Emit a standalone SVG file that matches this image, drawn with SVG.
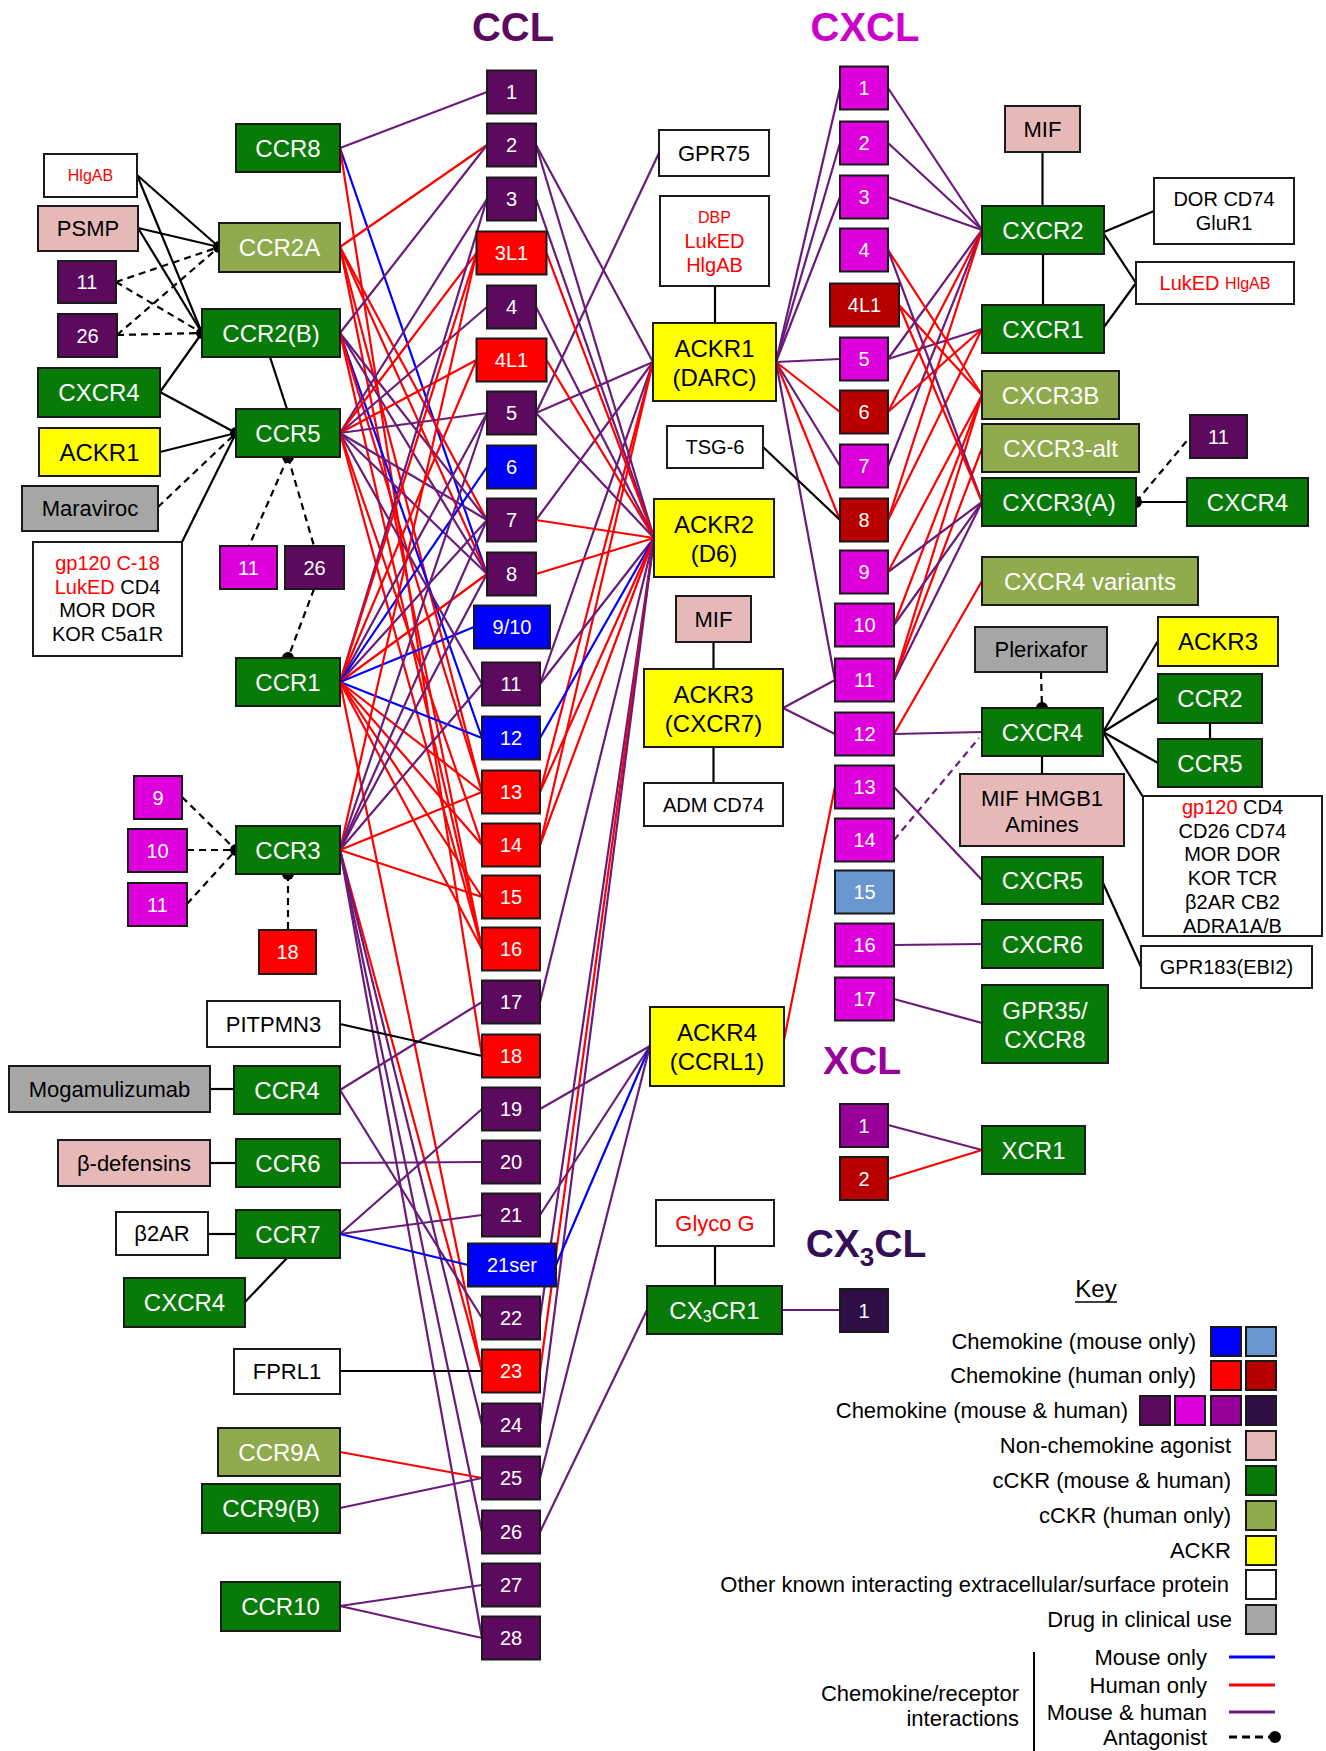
<svg xmlns="http://www.w3.org/2000/svg" width="1326" height="1751" viewBox="0 0 1326 1751">
<style>
text{font-family:"Liberation Sans",Arial,sans-serif}
.t{text-anchor:middle;dominant-baseline:central}
.e{text-anchor:end;dominant-baseline:central}
.wt{fill:#fff}.bt{fill:#000}.rt{fill:#f00}
.s24{font-size:24px}.s22{font-size:22px}.s20{font-size:20px}.s16{font-size:16px}
rect{stroke:#1a1a1a;stroke-width:2}
.D{fill:#5c0a5e}.M{fill:#dd00dd}.P{fill:#990099}.I{fill:#2e0f45}
.R{fill:#ff0000}.DR{fill:#b80000}.B{fill:#0000ff}.LB{fill:#6a96cf}
.Pk{fill:#e6b9b8}.G{fill:#087a08}.O{fill:#8fab4e}.Y{fill:#ffff00}.W{fill:#fff}.Gr{fill:#a6a6a6}
.lp{stroke:#6a1b7a;stroke-width:2.2;fill:none}
.lr{stroke:#ff0000;stroke-width:2.2;fill:none}
.lb{stroke:#0000ff;stroke-width:2.2;fill:none}
.k{stroke:#000;stroke-width:2.2;fill:none}
.kd{stroke:#000;stroke-width:2.2;stroke-dasharray:7,5;fill:none}
.pd{stroke:#6a1b7a;stroke-width:2.2;stroke-dasharray:7,5;fill:none}
.dot{fill:#000}
.title{font-weight:bold;text-anchor:middle}
</style>

<g id="connectors">
<!-- CCR8 -->
<line class="lp" x1="340" y1="148" x2="487" y2="92"/>
<line class="lb" x1="340" y1="148" x2="487" y2="574"/>
<line class="lr" x1="340" y1="148" x2="482" y2="1056"/>
<!-- CCR2A -->
<line class="lr" x1="340" y1="247" x2="487" y2="145"/>
<line class="lr" x1="340" y1="247" x2="487" y2="520"/>
<line class="lr" x1="340" y1="247" x2="487" y2="574"/>
<line class="lr" x1="340" y1="247" x2="482" y2="792"/>
<line class="lr" x1="340" y1="247" x2="482" y2="949"/>
<!-- CCR2B -->
<line class="lp" x1="340" y1="333" x2="487" y2="145"/>
<line class="lp" x1="340" y1="333" x2="487" y2="520"/>
<line class="lp" x1="340" y1="333" x2="487" y2="574"/>
<line class="lb" x1="340" y1="333" x2="482" y2="738"/>
<line class="lr" x1="340" y1="333" x2="482" y2="792"/>
<line class="lr" x1="340" y1="333" x2="482" y2="949"/>
<!-- CCR5 -->
<line class="lp" x1="340" y1="433" x2="487" y2="199"/>
<line class="lr" x1="340" y1="433" x2="476.5" y2="253"/>
<line class="lp" x1="340" y1="433" x2="487" y2="307"/>
<line class="lr" x1="340" y1="433" x2="476.5" y2="360"/>
<line class="lp" x1="340" y1="433" x2="487" y2="413"/>
<line class="lp" x1="340" y1="433" x2="487" y2="520"/>
<line class="lp" x1="340" y1="433" x2="487" y2="574"/>
<line class="lp" x1="340" y1="433" x2="482" y2="684"/>
<line class="lr" x1="340" y1="433" x2="482" y2="845"/>
<line class="lr" x1="340" y1="433" x2="482" y2="949"/>
<!-- CCR1 -->
<line class="lp" x1="340" y1="682" x2="487" y2="199"/>
<line class="lr" x1="340" y1="682" x2="476.5" y2="253"/>
<line class="lr" x1="340" y1="682" x2="476.5" y2="360"/>
<line class="lp" x1="340" y1="682" x2="487" y2="413"/>
<line class="lb" x1="340" y1="682" x2="487" y2="467"/>
<line class="lp" x1="340" y1="682" x2="487" y2="520"/>
<line class="lr" x1="340" y1="682" x2="487" y2="574"/>
<line class="lb" x1="340" y1="682" x2="474" y2="627"/>
<line class="lb" x1="340" y1="682" x2="482" y2="738"/>
<line class="lr" x1="340" y1="682" x2="482" y2="792"/>
<line class="lr" x1="340" y1="682" x2="482" y2="845"/>
<line class="lr" x1="340" y1="682" x2="482" y2="897"/>
<line class="lr" x1="340" y1="682" x2="482" y2="949"/>
<line class="lr" x1="340" y1="682" x2="482" y2="1371"/>
<!-- CCR3 -->
<line class="lr" x1="340" y1="850" x2="476.5" y2="253"/>
<line class="lp" x1="340" y1="850" x2="487" y2="413"/>
<line class="lp" x1="340" y1="850" x2="487" y2="520"/>
<line class="lp" x1="340" y1="850" x2="487" y2="574"/>
<line class="lp" x1="340" y1="850" x2="482" y2="684"/>
<line class="lr" x1="340" y1="850" x2="482" y2="792"/>
<line class="lr" x1="340" y1="850" x2="482" y2="897"/>
<line class="lr" x1="340" y1="850" x2="482" y2="1371"/>
<line class="lp" x1="340" y1="850" x2="482" y2="1425"/>
<line class="lp" x1="340" y1="850" x2="482" y2="1532"/>
<line class="lp" x1="340" y1="850" x2="482" y2="1638"/>
<!-- CCR4, CCR6, CCR7, CCR9, CCR10 -->
<line class="lp" x1="340" y1="1090" x2="482" y2="1002"/>
<line class="lp" x1="340" y1="1090" x2="482" y2="1318"/>
<line class="lp" x1="340" y1="1163" x2="482" y2="1162"/>
<line class="lp" x1="340" y1="1234" x2="482" y2="1109"/>
<line class="lp" x1="340" y1="1234" x2="482" y2="1215"/>
<line class="lb" x1="340" y1="1234" x2="468" y2="1265"/>
<line class="lr" x1="340" y1="1452" x2="482" y2="1478"/>
<line class="lp" x1="340" y1="1508" x2="482" y2="1478"/>
<line class="lp" x1="340" y1="1606" x2="482" y2="1585"/>
<line class="lp" x1="340" y1="1606" x2="482" y2="1638"/>
<!-- GPR75 -->
<line class="lp" x1="659" y1="153" x2="536" y2="413"/>
<!-- ACKR1 left -->
<line class="lp" x1="653" y1="362" x2="536" y2="145"/>
<line class="lp" x1="653" y1="362" x2="536" y2="413"/>
<line class="lp" x1="653" y1="362" x2="536" y2="520"/>
<line class="lp" x1="653" y1="362" x2="540" y2="684"/>
<line class="lr" x1="653" y1="362" x2="540" y2="792"/>
<line class="lr" x1="653" y1="362" x2="540" y2="845"/>
<!-- ACKR2 -->
<line class="lp" x1="654" y1="538" x2="536" y2="145"/>
<line class="lp" x1="654" y1="538" x2="536" y2="199"/>
<line class="lr" x1="654" y1="538" x2="546.5" y2="253"/>
<line class="lp" x1="654" y1="538" x2="536" y2="307"/>
<line class="lr" x1="654" y1="538" x2="546.5" y2="360"/>
<line class="lp" x1="654" y1="538" x2="536" y2="413"/>
<line class="lr" x1="654" y1="538" x2="536" y2="520"/>
<line class="lr" x1="654" y1="538" x2="536" y2="574"/>
<line class="lp" x1="654" y1="538" x2="540" y2="684"/>
<line class="lb" x1="654" y1="538" x2="540" y2="738"/>
<line class="lr" x1="654" y1="538" x2="540" y2="792"/>
<line class="lr" x1="654" y1="538" x2="540" y2="845"/>
<line class="lp" x1="654" y1="538" x2="540" y2="1002"/>
<line class="lp" x1="654" y1="538" x2="540" y2="1318"/>
<line class="lr" x1="654" y1="538" x2="540" y2="1371"/>
<line class="lp" x1="654" y1="538" x2="540" y2="1425"/>
<!-- ACKR4 -->
<line class="lp" x1="650" y1="1046" x2="540" y2="1109"/>
<line class="lp" x1="650" y1="1046" x2="540" y2="1215"/>
<line class="lb" x1="650" y1="1046" x2="556" y2="1265"/>
<line class="lp" x1="650" y1="1046" x2="540" y2="1478"/>
<line class="lr" x1="784" y1="1040" x2="835" y2="787"/>
<!-- CX3CR1 -->
<line class="lp" x1="647" y1="1310" x2="540" y2="1532"/>
<line class="lp" x1="782" y1="1310" x2="840" y2="1310"/>
<!-- ACKR3 -->
<line class="lp" x1="783" y1="708" x2="835" y2="680"/>
<line class="lp" x1="783" y1="708" x2="835" y2="734"/>
<!-- ACKR1 right -->
<line class="lp" x1="776" y1="362" x2="840" y2="88"/>
<line class="lp" x1="776" y1="362" x2="840" y2="143"/>
<line class="lp" x1="776" y1="362" x2="840" y2="197"/>
<line class="lp" x1="776" y1="362" x2="840" y2="359"/>
<line class="lr" x1="776" y1="362" x2="840" y2="412"/>
<line class="lp" x1="776" y1="362" x2="840" y2="466"/>
<line class="lr" x1="776" y1="362" x2="840" y2="520"/>
<line class="lp" x1="776" y1="362" x2="835" y2="680"/>
<!-- CXCR2 -->
<line class="lp" x1="888" y1="88" x2="982" y2="230"/>
<line class="lp" x1="888" y1="143" x2="982" y2="230"/>
<line class="lp" x1="888" y1="197" x2="982" y2="230"/>
<line class="lp" x1="888" y1="359" x2="982" y2="230"/>
<line class="lr" x1="888" y1="412" x2="982" y2="230"/>
<line class="lp" x1="888" y1="466" x2="982" y2="230"/>
<line class="lr" x1="888" y1="520" x2="982" y2="230"/>
<!-- CXCR1 -->
<line class="lp" x1="888" y1="359" x2="982" y2="329"/>
<line class="lr" x1="888" y1="412" x2="982" y2="329"/>
<line class="lr" x1="888" y1="520" x2="982" y2="329"/>
<!-- CXCR3B -->
<line class="lr" x1="888" y1="250" x2="982" y2="395"/>
<line class="lr" x1="899" y1="305" x2="982" y2="395"/>
<line class="lr" x1="888" y1="572" x2="982" y2="395"/>
<line class="lr" x1="894" y1="625" x2="982" y2="395"/>
<line class="lr" x1="894" y1="680" x2="982" y2="395"/>
<!-- CXCR3-alt -->
<line class="lr" x1="894" y1="680" x2="982" y2="448"/>
<!-- CXCR3A -->
<line class="lp" x1="888" y1="250" x2="982" y2="502"/>
<line class="lr" x1="899" y1="305" x2="982" y2="502"/>
<line class="lp" x1="888" y1="572" x2="982" y2="502"/>
<line class="lp" x1="894" y1="625" x2="982" y2="502"/>
<line class="lp" x1="894" y1="680" x2="982" y2="502"/>
<!-- CXCR4 variants, CXCR4, CXCR5, CXCR6, GPR35 -->
<line class="lr" x1="894" y1="734" x2="982" y2="581"/>
<line class="lp" x1="894" y1="734" x2="982" y2="732"/>
<line class="pd" x1="894" y1="840" x2="979" y2="738"/>
<line class="lp" x1="894" y1="787" x2="982" y2="880"/>
<line class="lp" x1="894" y1="945" x2="982" y2="944"/>
<line class="lp" x1="894" y1="999" x2="982" y2="1023"/>
<!-- XCR1 -->
<line class="lp" x1="888" y1="1125" x2="982" y2="1150"/>
<line class="lr" x1="888" y1="1179" x2="982" y2="1150"/>

<!-- black / other partners, left -->
<line class="k" x1="137" y1="175" x2="219" y2="247"/>
<line class="k" x1="137" y1="175" x2="202" y2="333"/>
<line class="k" x1="138" y1="228" x2="219" y2="247"/>
<line class="k" x1="138" y1="228" x2="202" y2="333"/>
<line class="kd" x1="116" y1="282" x2="219" y2="247"/>
<line class="kd" x1="116" y1="282" x2="202" y2="333"/>
<line class="kd" x1="117" y1="335" x2="219" y2="247"/>
<line class="kd" x1="117" y1="335" x2="202" y2="333"/>
<line class="k" x1="160" y1="392" x2="202" y2="333"/>
<line class="k" x1="160" y1="392" x2="236" y2="433"/>
<line class="k" x1="160" y1="452" x2="236" y2="433"/>
<line class="kd" x1="158" y1="507" x2="236" y2="433"/>
<line class="k" x1="182" y1="542" x2="236" y2="433"/>
<line class="k" x1="270" y1="357" x2="287" y2="409"/>
<line class="kd" x1="288" y1="457" x2="249" y2="546"/>
<line class="kd" x1="288" y1="457" x2="314" y2="546"/>
<line class="kd" x1="314" y1="589" x2="288" y2="658"/>
<line class="kd" x1="182" y1="797" x2="236" y2="850"/>
<line class="kd" x1="187" y1="850" x2="236" y2="850"/>
<line class="kd" x1="187" y1="904" x2="236" y2="850"/>
<line class="kd" x1="288" y1="874" x2="288" y2="930"/>
<line class="k" x1="210" y1="1089" x2="234" y2="1089"/>
<line class="k" x1="210" y1="1163" x2="236" y2="1163"/>
<line class="k" x1="208" y1="1234" x2="236" y2="1234"/>
<line class="k" x1="245" y1="1302" x2="287" y2="1258"/>
<line class="k" x1="340" y1="1024" x2="482" y2="1056"/>
<line class="k" x1="340" y1="1371" x2="482" y2="1371"/>
<!-- middle -->
<line class="k" x1="715" y1="286" x2="715" y2="323"/>
<line class="k" x1="763" y1="447" x2="840" y2="520"/>
<line class="k" x1="713.5" y1="642" x2="713.5" y2="669"/>
<line class="k" x1="713.5" y1="747" x2="713.5" y2="783"/>
<line class="k" x1="715" y1="1246" x2="715" y2="1286"/>
<!-- right -->
<line class="k" x1="1042.5" y1="152" x2="1042.5" y2="206"/>
<line class="k" x1="1043" y1="254" x2="1043" y2="305"/>
<line class="k" x1="1104" y1="232" x2="1154" y2="211"/>
<line class="k" x1="1104" y1="234" x2="1136" y2="283"/>
<line class="k" x1="1104" y1="327" x2="1136" y2="283"/>
<line class="k" x1="1136" y1="502" x2="1187" y2="502"/>
<line class="kd" x1="1136" y1="502" x2="1190" y2="437"/>
<line class="kd" x1="1041" y1="672" x2="1042" y2="708"/>
<line class="k" x1="1103" y1="732" x2="1158" y2="641"/>
<line class="k" x1="1103" y1="732" x2="1158" y2="698"/>
<line class="k" x1="1103" y1="732" x2="1158" y2="763"/>
<line class="k" x1="1103" y1="732" x2="1143" y2="797"/>
<line class="k" x1="1210" y1="723" x2="1210" y2="739"/>
<line class="k" x1="1042" y1="756" x2="1042" y2="774"/>
<line class="k" x1="1103" y1="883" x2="1141" y2="967"/>
<!-- antagonist dots -->
<circle class="dot" cx="219" cy="247" r="6"/>
<circle class="dot" cx="202" cy="333" r="6"/>
<circle class="dot" cx="236" cy="433" r="6"/>
<circle class="dot" cx="288" cy="457" r="6"/>
<circle class="dot" cx="288" cy="658" r="6"/>
<circle class="dot" cx="236" cy="850" r="6"/>
<circle class="dot" cx="288" cy="874" r="6"/>
<circle class="dot" cx="1136" cy="502" r="6"/>
<circle class="dot" cx="1042" cy="708" r="6"/>
</g>

<!-- titles -->
<text class="title" x="513" y="41" font-size="40" fill="#5c0a5e">CCL</text>
<text class="title" x="865" y="41" font-size="40" fill="#cc00cc">CXCL</text>
<text class="title" x="862" y="1074" font-size="39" fill="#990099">XCL</text>
<text class="title" x="866" y="1257" font-size="39" fill="#330f55">CX<tspan font-size="26" dy="9">3</tspan><tspan dy="-9">CL</tspan></text>

<!-- CCL column -->
<g id="ccl-1"><rect class="D" x="487" y="70.5" width="49" height="43"/><text class="t wt s20" x="511.5" y="92">1</text></g>
<g id="ccl-2"><rect class="D" x="487" y="123.5" width="49" height="43"/><text class="t wt s20" x="511.5" y="145">2</text></g>
<g id="ccl-3"><rect class="D" x="487" y="177.5" width="49" height="43"/><text class="t wt s20" x="511.5" y="199">3</text></g>
<g id="ccl-3l1"><rect class="R" x="476.5" y="231.5" width="70" height="43"/><text class="t wt s20" x="511.5" y="253">3L1</text></g>
<g id="ccl-4"><rect class="D" x="487" y="285.5" width="49" height="43"/><text class="t wt s20" x="511.5" y="307">4</text></g>
<g id="ccl-4l1"><rect class="R" x="476.5" y="338.5" width="70" height="43"/><text class="t wt s20" x="511.5" y="360">4L1</text></g>
<g id="ccl-5"><rect class="D" x="487" y="391.5" width="49" height="43"/><text class="t wt s20" x="511.5" y="413">5</text></g>
<g id="ccl-6"><rect class="B" x="487" y="445.5" width="49" height="43"/><text class="t wt s20" x="511.5" y="467">6</text></g>
<g id="ccl-7"><rect class="D" x="487" y="498.5" width="49" height="43"/><text class="t wt s20" x="511.5" y="520">7</text></g>
<g id="ccl-8"><rect class="D" x="487" y="552.5" width="49" height="43"/><text class="t wt s20" x="511.5" y="574">8</text></g>
<g id="ccl-9-10"><rect class="B" x="474" y="605.5" width="76" height="43"/><text class="t wt s20" x="512" y="627">9/10</text></g>
<g id="ccl-11"><rect class="D" x="482" y="662.5" width="58" height="43"/><text class="t wt s20" x="511" y="684">11</text></g>
<g id="ccl-12"><rect class="B" x="482" y="716.5" width="58" height="43"/><text class="t wt s20" x="511" y="738">12</text></g>
<g id="ccl-13"><rect class="R" x="482" y="770.5" width="58" height="43"/><text class="t wt s20" x="511" y="792">13</text></g>
<g id="ccl-14"><rect class="R" x="482" y="823.5" width="58" height="43"/><text class="t wt s20" x="511" y="845">14</text></g>
<g id="ccl-15"><rect class="R" x="482" y="875.5" width="58" height="43"/><text class="t wt s20" x="511" y="897">15</text></g>
<g id="ccl-16"><rect class="R" x="482" y="927.5" width="58" height="43"/><text class="t wt s20" x="511" y="949">16</text></g>
<g id="ccl-17"><rect class="D" x="482" y="980.5" width="58" height="43"/><text class="t wt s20" x="511" y="1002">17</text></g>
<g id="ccl-18"><rect class="R" x="482" y="1034.5" width="58" height="43"/><text class="t wt s20" x="511" y="1056">18</text></g>
<g id="ccl-19"><rect class="D" x="482" y="1087.5" width="58" height="43"/><text class="t wt s20" x="511" y="1109">19</text></g>
<g id="ccl-20"><rect class="D" x="482" y="1140.5" width="58" height="43"/><text class="t wt s20" x="511" y="1162">20</text></g>
<g id="ccl-21"><rect class="D" x="482" y="1193.5" width="58" height="43"/><text class="t wt s20" x="511" y="1215">21</text></g>
<g id="ccl-21ser"><rect class="B" x="468" y="1243.5" width="88" height="43"/><text class="t wt s20" x="512" y="1265">21ser</text></g>
<g id="ccl-22"><rect class="D" x="482" y="1296.5" width="58" height="43"/><text class="t wt s20" x="511" y="1318">22</text></g>
<g id="ccl-23"><rect class="R" x="482" y="1349.5" width="58" height="43"/><text class="t wt s20" x="511" y="1371">23</text></g>
<g id="ccl-24"><rect class="D" x="482" y="1403.5" width="58" height="43"/><text class="t wt s20" x="511" y="1425">24</text></g>
<g id="ccl-25"><rect class="D" x="482" y="1456.5" width="58" height="43"/><text class="t wt s20" x="511" y="1478">25</text></g>
<g id="ccl-26"><rect class="D" x="482" y="1510.5" width="58" height="43"/><text class="t wt s20" x="511" y="1532">26</text></g>
<g id="ccl-27"><rect class="D" x="482" y="1563.5" width="58" height="43"/><text class="t wt s20" x="511" y="1585">27</text></g>
<g id="ccl-28"><rect class="D" x="482" y="1616.5" width="58" height="43"/><text class="t wt s20" x="511" y="1638">28</text></g>

<!-- CXCL column -->
<g id="cxcl-1"><rect class="M" x="840" y="66.5" width="48" height="43"/><text class="t wt s20" x="864" y="88">1</text></g>
<g id="cxcl-2"><rect class="M" x="840" y="121.5" width="48" height="43"/><text class="t wt s20" x="864" y="143">2</text></g>
<g id="cxcl-3"><rect class="M" x="840" y="175.5" width="48" height="43"/><text class="t wt s20" x="864" y="197">3</text></g>
<g id="cxcl-4"><rect class="M" x="840" y="228.5" width="48" height="43"/><text class="t wt s20" x="864" y="250">4</text></g>
<g id="cxcl-4l1"><rect class="DR" x="830" y="283.5" width="69" height="43"/><text class="t wt s20" x="864.5" y="305">4L1</text></g>
<g id="cxcl-5"><rect class="M" x="840" y="337.5" width="48" height="43"/><text class="t wt s20" x="864" y="359">5</text></g>
<g id="cxcl-6"><rect class="DR" x="840" y="390.5" width="48" height="43"/><text class="t wt s20" x="864" y="412">6</text></g>
<g id="cxcl-7"><rect class="M" x="840" y="444.5" width="48" height="43"/><text class="t wt s20" x="864" y="466">7</text></g>
<g id="cxcl-8"><rect class="DR" x="840" y="498.5" width="48" height="43"/><text class="t wt s20" x="864" y="520">8</text></g>
<g id="cxcl-9"><rect class="M" x="840" y="550.5" width="48" height="43"/><text class="t wt s20" x="864" y="572">9</text></g>
<g id="cxcl-10"><rect class="M" x="835" y="603.5" width="59" height="43"/><text class="t wt s20" x="864.5" y="625">10</text></g>
<g id="cxcl-11"><rect class="M" x="835" y="658.5" width="59" height="43"/><text class="t wt s20" x="864.5" y="680">11</text></g>
<g id="cxcl-12"><rect class="M" x="835" y="712.5" width="59" height="43"/><text class="t wt s20" x="864.5" y="734">12</text></g>
<g id="cxcl-13"><rect class="M" x="835" y="765.5" width="59" height="43"/><text class="t wt s20" x="864.5" y="787">13</text></g>
<g id="cxcl-14"><rect class="M" x="835" y="818.5" width="59" height="43"/><text class="t wt s20" x="864.5" y="840">14</text></g>
<g id="cxcl-15"><rect class="LB" x="835" y="870.5" width="59" height="43"/><text class="t wt s20" x="864.5" y="892">15</text></g>
<g id="cxcl-16"><rect class="M" x="835" y="923.5" width="59" height="43"/><text class="t wt s20" x="864.5" y="945">16</text></g>
<g id="cxcl-17"><rect class="M" x="835" y="977.5" width="59" height="43"/><text class="t wt s20" x="864.5" y="999">17</text></g>

<g id="xcl-1"><rect class="P" x="840" y="1104" width="48" height="43"/><text class="t wt s20" x="864" y="1125.5">1</text></g>
<g id="xcl-2"><rect class="DR" x="840" y="1157" width="48" height="43"/><text class="t wt s20" x="864" y="1178.5">2</text></g>
<g id="cx3cl-1"><rect class="I" x="840" y="1289" width="48" height="43"/><text class="t wt s20" x="864" y="1310.5">1</text></g>

<!-- left nodes -->
<g id="ccr8"><rect class="G" x="236" y="124" width="104" height="48"/><text class="t wt s24" x="288" y="148">CCR8</text></g>
<g id="hlgab-left"><rect class="W" x="44" y="154" width="93" height="43"/><text class="t rt s16" x="90.5" y="175.5">HlgAB</text></g>
<g id="psmp"><rect class="Pk" x="38" y="206" width="100" height="45"/><text class="t bt s22" x="88" y="228.5">PSMP</text></g>
<g id="ccl11-antag"><rect class="D" x="58" y="261" width="58" height="42"/><text class="t wt s20" x="87" y="282">11</text></g>
<g id="ccl26-antag"><rect class="D" x="58" y="314" width="59" height="43"/><text class="t wt s20" x="87.5" y="335.5">26</text></g>
<g id="cxcr4-left"><rect class="G" x="38" y="368" width="122" height="49"/><text class="t wt s24" x="99" y="392.5">CXCR4</text></g>
<g id="ccr2a"><rect class="O" x="219" y="223" width="121" height="49"/><text class="t wt s24" x="279.5" y="247.5">CCR2A</text></g>
<g id="ccr2b"><rect class="G" x="202" y="309" width="138" height="48"/><text class="t wt s24" x="271" y="333">CCR2(B)</text></g>
<g id="ccr5"><rect class="G" x="236" y="409" width="104" height="48"/><text class="t wt s24" x="288" y="433">CCR5</text></g>
<g id="ackr1-left"><rect class="Y" x="39" y="428" width="121" height="48"/><text class="t bt s24" x="99.5" y="452">ACKR1</text></g>
<g id="maraviroc"><rect class="Gr" x="22" y="486" width="136" height="45"/><text class="t bt s22" x="90" y="508.5">Maraviroc</text></g>
<g id="ccr5-partners"><rect class="W" x="33" y="542" width="149" height="114"/>
<text class="t rt s20" x="107.5" y="563">gp120 C-18</text>
<text class="t s20" x="107.5" y="587"><tspan fill="#f00">LukED</tspan><tspan fill="#000"> CD4</tspan></text>
<text class="t bt s20" x="107.5" y="610">MOR DOR</text>
<text class="t bt s20" x="107.5" y="634">KOR C5a1R</text></g>
<g id="cxcl11-antag-ccr5"><rect class="M" x="220" y="546" width="57" height="43"/><text class="t wt s20" x="248.5" y="567.5">11</text></g>
<g id="ccl26-antag-ccr5"><rect class="D" x="285" y="546" width="59" height="43"/><text class="t wt s20" x="314.5" y="567.5">26</text></g>
<g id="ccr1"><rect class="G" x="236" y="658" width="104" height="48"/><text class="t wt s24" x="288" y="682">CCR1</text></g>
<g id="cxcl9-antag"><rect class="M" x="134" y="776" width="48" height="43"/><text class="t wt s20" x="158" y="797.5">9</text></g>
<g id="cxcl10-antag"><rect class="M" x="128" y="829" width="59" height="43"/><text class="t wt s20" x="157.5" y="850.5">10</text></g>
<g id="cxcl11-antag-ccr3"><rect class="M" x="128" y="883" width="59" height="43"/><text class="t wt s20" x="157.5" y="904.5">11</text></g>
<g id="ccr3"><rect class="G" x="236" y="826" width="104" height="48"/><text class="t wt s24" x="288" y="850">CCR3</text></g>
<g id="ccl18-antag"><rect class="R" x="259" y="930" width="57" height="44"/><text class="t wt s20" x="287.5" y="952">18</text></g>
<g id="pitpmn3"><rect class="W" x="207" y="1001" width="133" height="46"/><text class="t bt s22" x="273.5" y="1024">PITPMN3</text></g>
<g id="mogamulizumab"><rect class="Gr" x="9" y="1066" width="201" height="46"/><text class="t bt s22" x="109.5" y="1089">Mogamulizumab</text></g>
<g id="ccr4"><rect class="G" x="234" y="1066" width="106" height="48"/><text class="t wt s24" x="287" y="1090">CCR4</text></g>
<g id="beta-defensins"><rect class="Pk" x="58" y="1140" width="152" height="46"/><text class="t bt s22" x="134" y="1163">β-defensins</text></g>
<g id="ccr6"><rect class="G" x="236" y="1139" width="104" height="48"/><text class="t wt s24" x="288" y="1163">CCR6</text></g>
<g id="b2ar"><rect class="W" x="116" y="1212" width="92" height="43"/><text class="t bt s22" x="162" y="1233.5">β2AR</text></g>
<g id="ccr7"><rect class="G" x="236" y="1210" width="104" height="48"/><text class="t wt s24" x="288" y="1234">CCR7</text></g>
<g id="cxcr4-ccr7"><rect class="G" x="124" y="1278" width="121" height="49"/><text class="t wt s24" x="184.5" y="1302.5">CXCR4</text></g>
<g id="fprl1"><rect class="W" x="234" y="1349" width="106" height="45"/><text class="t bt s22" x="287" y="1371.5">FPRL1</text></g>
<g id="ccr9a"><rect class="O" x="218" y="1428" width="122" height="48"/><text class="t wt s24" x="279" y="1452">CCR9A</text></g>
<g id="ccr9b"><rect class="G" x="202" y="1484" width="138" height="49"/><text class="t wt s24" x="271" y="1508.5">CCR9(B)</text></g>
<g id="ccr10"><rect class="G" x="221" y="1582" width="119" height="49"/><text class="t wt s24" x="280.5" y="1606.5">CCR10</text></g>

<!-- middle nodes -->
<g id="gpr75"><rect class="W" x="659" y="130" width="110" height="46"/><text class="t bt s22" x="714" y="153">GPR75</text></g>
<g id="ackr1-partners"><rect class="W" x="660" y="196" width="109" height="90"/>
<text class="t rt s16" x="714.5" y="217">DBP</text>
<text class="t rt s20" x="714.5" y="241">LukED</text>
<text class="t rt s20" x="714.5" y="265">HlgAB</text></g>
<g id="ackr1"><rect class="Y" x="653" y="323" width="123" height="78"/><text class="t bt s24" x="714.5" y="348">ACKR1</text><text class="t bt s24" x="714.5" y="377">(DARC)</text></g>
<g id="tsg6"><rect class="W" x="667" y="426" width="96" height="42"/><text class="t bt s20" x="715" y="447">TSG-6</text></g>
<g id="ackr2"><rect class="Y" x="654" y="499" width="120" height="78"/><text class="t bt s24" x="714" y="524">ACKR2</text><text class="t bt s24" x="714" y="553">(D6)</text></g>
<g id="mif-ackr3"><rect class="Pk" x="676" y="596" width="75" height="46"/><text class="t bt s22" x="713.5" y="619">MIF</text></g>
<g id="ackr3"><rect class="Y" x="644" y="669" width="139" height="78"/><text class="t bt s24" x="713.5" y="694">ACKR3</text><text class="t bt s24" x="713.5" y="723">(CXCR7)</text></g>
<g id="adm-cd74"><rect class="W" x="644" y="783" width="139" height="43"/><text class="t bt s20" x="713.5" y="804.5">ADM CD74</text></g>
<g id="ackr4"><rect class="Y" x="650" y="1007" width="134" height="79"/><text class="t bt s24" x="717" y="1032">ACKR4</text><text class="t bt s24" x="717" y="1061">(CCRL1)</text></g>
<g id="glyco-g"><rect class="W" x="656" y="1200" width="118" height="46"/><text class="t rt s22" x="715" y="1223">Glyco G</text></g>
<g id="cx3cr1"><rect class="G" x="647" y="1286" width="135" height="48"/><text class="t wt s24" x="714.5" y="1310">CX<tspan font-size="16" dy="6">3</tspan><tspan dy="-6">CR1</tspan></text></g>

<!-- right nodes -->
<g id="mif-cxcr2"><rect class="Pk" x="1005" y="106" width="75" height="46"/><text class="t bt s22" x="1042.5" y="129">MIF</text></g>
<g id="cxcr2"><rect class="G" x="982" y="206" width="122" height="48"/><text class="t wt s24" x="1043" y="230">CXCR2</text></g>
<g id="cxcr2-partners"><rect class="W" x="1154" y="178" width="140" height="66"/><text class="t bt s20" x="1224" y="199">DOR CD74</text><text class="t bt s20" x="1224" y="223">GluR1</text></g>
<g id="luked-hlgab"><rect class="W" x="1136" y="262" width="158" height="42"/><text class="t rt s20" x="1215" y="283">LukED <tspan font-size="16">HlgAB</tspan></text></g>
<g id="cxcr1"><rect class="G" x="982" y="305" width="122" height="48"/><text class="t wt s24" x="1043" y="329">CXCR1</text></g>
<g id="cxcr3b"><rect class="O" x="982" y="371" width="137" height="48"/><text class="t wt s24" x="1050.5" y="395">CXCR3B</text></g>
<g id="cxcr3-alt"><rect class="O" x="982" y="424" width="157" height="48"/><text class="t wt s24" x="1060.5" y="448">CXCR3-alt</text></g>
<g id="cxcr3a"><rect class="G" x="982" y="478" width="154" height="48"/><text class="t wt s24" x="1059" y="502">CXCR3(A)</text></g>
<g id="ccl11-antag-cxcr3"><rect class="D" x="1190" y="415" width="57" height="43"/><text class="t wt s20" x="1218.5" y="436.5">11</text></g>
<g id="cxcr4-cxcr3"><rect class="G" x="1187" y="478" width="121" height="48"/><text class="t wt s24" x="1247.5" y="502">CXCR4</text></g>
<g id="cxcr4-variants"><rect class="O" x="982" y="557" width="216" height="48"/><text class="t wt s24" x="1090" y="581">CXCR4 variants</text></g>
<g id="plerixafor"><rect class="Gr" x="975" y="627" width="132" height="45"/><text class="t bt s22" x="1041" y="649.5">Plerixafor</text></g>
<g id="ackr3-right"><rect class="Y" x="1158" y="617" width="120" height="49"/><text class="t bt s24" x="1218" y="641.5">ACKR3</text></g>
<g id="ccr2-right"><rect class="G" x="1158" y="674" width="104" height="49"/><text class="t wt s24" x="1210" y="698.5">CCR2</text></g>
<g id="ccr5-right"><rect class="G" x="1158" y="739" width="104" height="48"/><text class="t wt s24" x="1210" y="763">CCR5</text></g>
<g id="cxcr4"><rect class="G" x="982" y="708" width="121" height="48"/><text class="t wt s24" x="1042.5" y="732">CXCR4</text></g>
<g id="mif-hmgb1"><rect class="Pk" x="960" y="774" width="164" height="72"/><text class="t bt s22" x="1042" y="798">MIF HMGB1</text><text class="t bt s22" x="1042" y="824">Amines</text></g>
<g id="cxcr4-partners"><rect class="W" x="1143" y="796" width="179" height="140"/>
<text class="t s20" x="1232.5" y="807"><tspan fill="#f00">gp120</tspan><tspan fill="#000"> CD4</tspan></text>
<text class="t bt s20" x="1232.5" y="831">CD26 CD74</text>
<text class="t bt s20" x="1232.5" y="854">MOR DOR</text>
<text class="t bt s20" x="1232.5" y="878">KOR TCR</text>
<text class="t bt s20" x="1232.5" y="902">β2AR CB2</text>
<text class="t bt s20" x="1232.5" y="926">ADRA1A/B</text></g>
<g id="cxcr5"><rect class="G" x="982" y="857" width="121" height="47"/><text class="t wt s24" x="1042.5" y="880.5">CXCR5</text></g>
<g id="gpr183"><rect class="W" x="1141" y="946" width="171" height="42"/><text class="t bt s20" x="1226.5" y="967">GPR183(EBI2)</text></g>
<g id="cxcr6"><rect class="G" x="982" y="920" width="121" height="48"/><text class="t wt s24" x="1042.5" y="944">CXCR6</text></g>
<g id="gpr35"><rect class="G" x="982" y="985" width="126" height="78"/><text class="t wt s24" x="1045" y="1010">GPR35/</text><text class="t wt s24" x="1045" y="1039">CXCR8</text></g>
<g id="xcr1"><rect class="G" x="982" y="1126" width="103" height="48"/><text class="t wt s24" x="1033.5" y="1150">XCR1</text></g>

<!-- key -->
<g id="key">
<text x="1096" y="1297" font-size="24" text-anchor="middle" fill="#000">Key</text>
<line x1="1075" y1="1302" x2="1117" y2="1302" stroke="#000" stroke-width="1.5"/>
<text class="e bt s22" x="1196" y="1341">Chemokine (mouse only)</text>
<rect class="B" x="1211" y="1327" width="30" height="29"/><rect class="LB" x="1246" y="1327" width="30" height="29"/>
<text class="e bt s22" x="1196" y="1375">Chemokine (human only)</text>
<rect class="R" x="1211" y="1361" width="30" height="29"/><rect class="DR" x="1246" y="1361" width="30" height="29"/>
<text class="e bt s22" x="1128" y="1410">Chemokine (mouse &amp; human)</text>
<rect class="D" x="1140" y="1396" width="30" height="29"/><rect class="M" x="1175" y="1396" width="30" height="29"/><rect class="P" x="1211" y="1396" width="30" height="29"/><rect class="I" x="1246" y="1396" width="30" height="29"/>
<text class="e bt s22" x="1231" y="1445">Non-chemokine agonist</text>
<rect class="Pk" x="1246" y="1431" width="30" height="29"/>
<text class="e bt s22" x="1231" y="1480">cCKR (mouse &amp; human)</text>
<rect class="G" x="1246" y="1466" width="30" height="29"/>
<text class="e bt s22" x="1231" y="1515">cCKR (human only)</text>
<rect class="O" x="1246" y="1501" width="30" height="29"/>
<text class="e bt s22" x="1231" y="1550">ACKR</text>
<rect class="Y" x="1246" y="1536" width="30" height="29"/>
<text class="e bt s22" x="1229" y="1584">Other known interacting extracellular/surface protein</text>
<rect class="W" x="1246" y="1570" width="30" height="29"/>
<text class="e bt s22" x="1232" y="1619">Drug in clinical use</text>
<rect class="Gr" x="1246" y="1605" width="30" height="29"/>
<line x1="1034" y1="1652" x2="1034" y2="1751" stroke="#000" stroke-width="2"/>
<text class="e bt s22" x="1019" y="1693">Chemokine/receptor</text>
<text class="e bt s22" x="1019" y="1718">interactions</text>
<text class="e bt s22" x="1207" y="1657">Mouse only</text>
<line x1="1229" y1="1657" x2="1275" y2="1657" stroke="#0000ff" stroke-width="3"/>
<text class="e bt s22" x="1207" y="1685">Human only</text>
<line x1="1229" y1="1685" x2="1275" y2="1685" stroke="#ff0000" stroke-width="3"/>
<text class="e bt s22" x="1207" y="1712">Mouse &amp; human</text>
<line x1="1229" y1="1712" x2="1275" y2="1712" stroke="#6a1b7a" stroke-width="3"/>
<text class="e bt s22" x="1207" y="1737">Antagonist</text>
<line x1="1229" y1="1737" x2="1270" y2="1737" stroke="#000" stroke-width="3" stroke-dasharray="8,5"/>
<circle cx="1275" cy="1737" r="6" fill="#000"/>
</g>
</svg>
